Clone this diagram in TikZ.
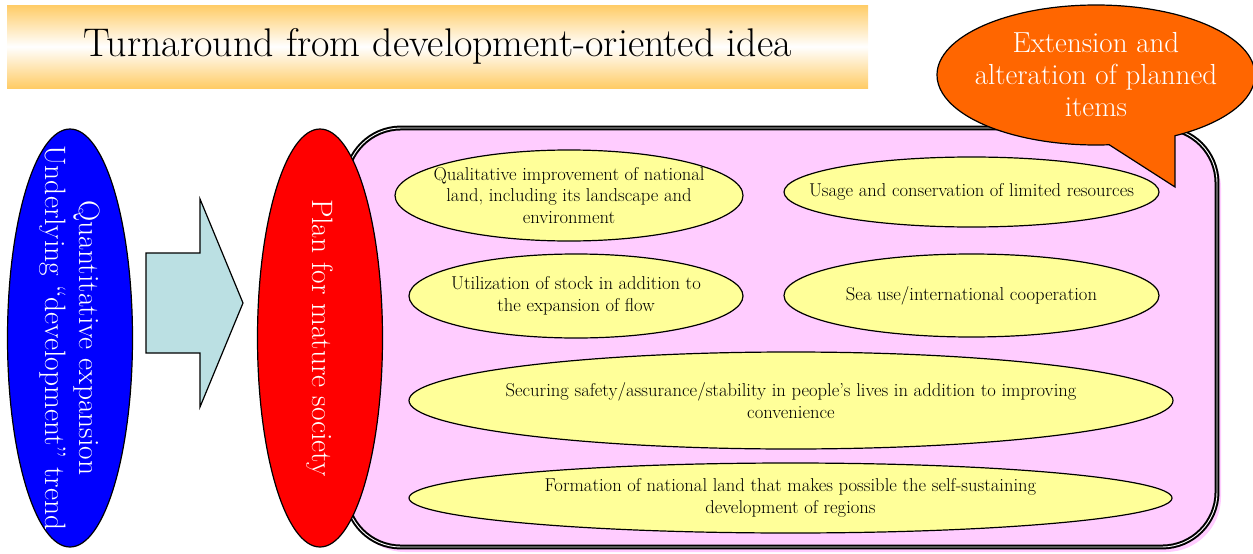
\documentclass[tikz,border=0pt]{standalone}
\usepackage{tikz}
\usetikzlibrary{shapes.geometric}
\usetikzlibrary{shapes.callouts}
\usetikzlibrary{shadows}

\definecolor{bandorange}{RGB}{255,204,102}
\definecolor{ovalyellow}{RGB}{255,255,153}
\definecolor{framepink}{RGB}{255,204,255}
\definecolor{arrowblue}{RGB}{187,224,227}
\definecolor{calloutorange}{RGB}{255,102,0}

\begin{document}
\begin{tikzpicture}[x=1pt, y=-1pt,
    oval/.style={ellipse, draw=black, line width=1.2pt, fill=ovalyellow,
      inner xsep=-60pt, inner ysep=0pt, align=center,
      font=\fontsize{18.6}{21.5}\selectfont},
    bigoval/.style={ellipse, draw=black, line width=1.2pt, rotate=-90,
      minimum width=418, minimum height=125, inner xsep=-90pt, inner ysep=0pt,
      align=center, text=white, font=\fontsize{29.5}{34}\selectfont}]
    \useasboundingbox (0,0) rectangle (1253,554);

    % title band
    \node (title) [rectangle, minimum width=861, minimum height=83,
      top color=bandorange, bottom color=bandorange, middle color=white,
      font=\fontsize{40}{44}\selectfont] at (437.5,46.5)
      {Turnaround from development-oriented idea};

    % left side
    \node (trend) [bigoval, fill=blue] at (70,338)
      {Quantitative expansion\\Underlying ``development'' trend};
    \filldraw[fill=arrowblue, draw=black, line width=1.2pt] (146,253) -- (200,253)
      -- (200,199) -- (243,303) -- (200,407) -- (200,353) -- (146,353) -- cycle;

    % frame with the items
    \node (frame) [rectangle, rounded corners=55, draw=black, line width=2pt,
      double=white, double distance=0.9pt, fill=framepink,
      minimum width=871, minimum height=419,
      drop shadow={shadow xshift=4pt, shadow yshift=-5pt, fill=framepink, opacity=1}]
      at (781.5,337.5) {};

    \node (quality) [oval, minimum width=348, minimum height=91] at (569,195.5)
      {Qualitative improvement of national\\land, including its landscape and\\environment};
    \node (stock) [oval, minimum width=334, minimum height=84] at (576,296)
      {Utilization of stock in addition to\\the expansion of flow};
    \node (usage) [oval, minimum width=375, minimum height=70] at (971.5,192)
      {Usage and conservation of limited resources};
    \node (sea) [oval, minimum width=375, minimum height=83] at (971.5,295.5)
      {Sea use/international cooperation};
    \node (safety) [oval, minimum width=764, minimum height=97] at (791,400.5)
      {Securing safety/assurance/stability in people's lives in addition to improving\\convenience};
    \node (regions) [oval, minimum width=763, minimum height=70] at (790.5,498)
      {Formation of national land that makes possible the self-sustaining\\development of regions};

    \node (mature) [bigoval, fill=red] at (320,338) {Plan for mature society};

    % callout
    \node (callout) [ellipse callout, draw=black, line width=1.2pt, fill=calloutorange,
      callout absolute pointer={(1175,187)}, callout pointer arc=25,
      minimum width=318, minimum height=140, inner xsep=-30pt, inner ysep=-10pt,
      align=center, text=white, font=\fontsize{29}{32}\selectfont] at (1096,75)
      {Extension and\\alteration of planned\\items};
\end{tikzpicture}
\end{document}
